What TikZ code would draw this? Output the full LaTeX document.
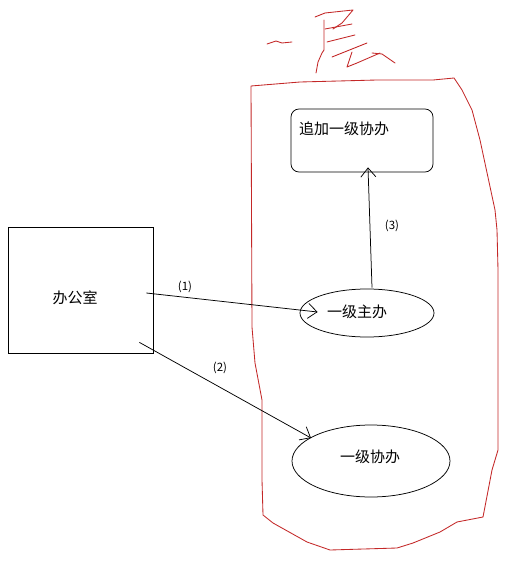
\documentclass[tikz,border=0pt]{standalone}
\usepackage{fontspec}
\newfontfamily\cjk{Noto Sans CJK SC}
\usetikzlibrary{shapes.geometric,arrows.meta,calc}
\definecolor{penred}{RGB}{196,40,40}
\begin{document}
\begin{tikzpicture}[x=1pt,y=-1pt,
  shapeline/.style={draw=black,line width=0.75pt},
  boxnode/.style={shapeline,rectangle,inner sep=0pt},
  ovalnode/.style={shapeline,ellipse,inner sep=0pt},
  txt/.style={inner sep=0pt,font=\cjk\fontsize{15}{17}\selectfont},
  lbl/.style={inner sep=0pt,font=\cjk\fontsize{11.5}{13}\selectfont},
  arr/.style={draw=black,line width=0.75pt,-{Straight Barb[length=9pt,width=15pt,line width=0.75pt]}},
  redpen/.style={draw=penred,line width=0.85pt,line join=round,line cap=round}
]
\useasboundingbox (0,0) rectangle (526,569);
\fill[white] (0,0) rectangle (526,569);

% hand-drawn outline
\draw[redpen] (251,86) -- (300,82) -- (377,80) -- (433,80) -- (454,78) -- (462,90) -- (472,110)
  -- (480,140) -- (495,210) -- (497,230) -- (498,270) -- (498,450) -- (492,470) -- (483,517)
  -- (457,522) -- (440,532) -- (413,543) -- (397,548) -- (330,550) -- (307,542) -- (273,523)
  -- (263,515) -- (262,480) -- (262,400) -- (255,363) -- (252,327) -- cycle;

% hand-written title
\draw[redpen] (267,44) -- (276,41) -- (282,43) -- (292,42);
\draw[redpen] (315,17) -- (325,13) -- (353,10) -- (342,23) -- (333,29);
\draw[redpen] (325,29) -- (352,24);
\draw[redpen] (324,20) -- (324,50) -- (322,53) -- (318,62) -- (316,73);
\draw[redpen] (327,42) -- (355,35);
\draw[redpen] (332,57) -- (352,49) -- (367,43);
\draw[redpen] (352,52) -- (347,67) -- (357,63) -- (380,53);
\draw[redpen] (372,53) -- (382,54) -- (395,63);

% nodes
\node[boxnode,minimum width=145pt,minimum height=126pt] (office) at (80.5,290) {};
\node[txt] (officet) at (75,298) {办公室};

\node[boxnode,rounded corners=8pt,minimum width=142pt,minimum height=63pt] (add) at (362,140.5) {};
\node[txt,anchor=west] (addt) at (299,129) {追加一级协办};

\node[ovalnode,minimum width=134pt,minimum height=48pt] (main) at (367,313) {};
\node[txt] (maint) at (357,312) {一级主办};

\node[ovalnode,minimum width=158pt,minimum height=72pt] (co) at (371,461) {};
\node[txt] (cot) at (370,457) {一级协办};

% connectors
\coordinate (s1) at ($(office.east)+(-7,3)$);
\coordinate (t1) at ($(main.west)+(18,-1)$);
\coordinate (s2) at ($(office.south east)+(-14,-11)$);
\coordinate (t2) at ($(co.center)+(-60,-23)$);
\coordinate (s3) at ($(main.north)+(5,-1)$);
\coordinate (t3) at ($(add.south)+(6,-5)$);
\draw[arr] (s1) -- (t1);
\draw[arr] (s2) -- (t2);
\draw[arr] (s3) -- (t3);

\node[lbl] (l1) at (185,287) {(1)};
\node[lbl] (l2) at (220,368) {(2)};
\node[lbl] (l3) at (392,226) {(3)};
\end{tikzpicture}
\end{document}
